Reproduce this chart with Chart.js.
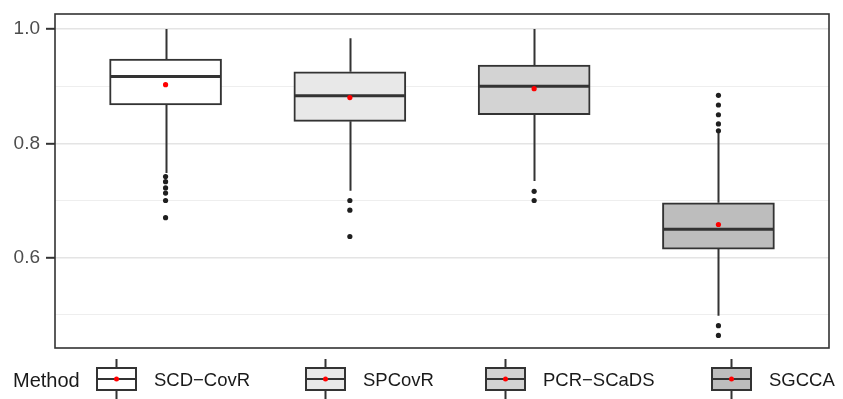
<!DOCTYPE html>
<html>
<head>
<meta charset="utf-8">
<script src="https://cdn.jsdelivr.net/npm/chart.js@4/dist/chart.umd.min.js"></script>
<style>
  body { margin: 0; background: #fff; }
</style>
</head>
<body>
<canvas id="chart" width="843" height="399"></canvas>
<script>
'use strict';

// box statistics per method
var methods = ['SCD\u2212CovR', 'SPCovR', 'PCR\u2212SCaDS', 'SGCCA'];
var q1 = [0.867, 0.8385, 0.850, 0.615];
var median = [0.917, 0.883, 0.900, 0.6495];
var q3 = [0.9475, 0.925, 0.937, 0.696];
var whiskerLow = [0.748, 0.717, 0.734, 0.4985];
var whiskerHigh = [1.0, 0.984, 1.0, 0.820];
var means = [0.9025, 0.880, 0.8955, 0.658];
var outliers = [
  [0.742, 0.733, 0.722, 0.713, 0.700, 0.670],
  [0.700, 0.683, 0.637],
  [0.716, 0.700],
  [0.884, 0.867, 0.850, 0.834, 0.822, 0.481, 0.464]
];
var yTicks = [0.5, 0.6, 0.7, 0.8, 0.9, 1.0];
var yLabelled = [0.6, 0.8, 1.0];

var fills = ['#ffffff', '#e8e8e8', '#d3d3d3', '#bdbdbd'];
var ink = '#333333';
var boxWidth = 112;
var font = '"Liberation Sans", Arial, sans-serif';

var ctx = document.getElementById('chart').getContext('2d');

var boxData = [];
var meanData = [];
var outlierData = [];
for (var i = 0; i < methods.length; i++) {
  boxData.push({ x: i + 1, y: [q1[i], q3[i]] });
  meanData.push({ x: i + 1, y: means[i] });
  for (var j = 0; j < outliers[i].length; j++) {
    outlierData.push({ x: i + 1, y: outliers[i][j] });
  }
}

function isLabelled(v) {
  for (var k = 0; k < yLabelled.length; k++) {
    if (Math.abs(yLabelled[k] - v) < 1e-9) return true;
  }
  return false;
}

var boxPlugin = {
  id: 'boxParts',
  beforeDatasetDraw: function (chart, args) {
    if (args.meta.type !== 'bar') return;
    var c = chart.ctx, xs = chart.scales.x, ys = chart.scales.y;
    c.save();
    c.strokeStyle = ink;
    c.lineWidth = 2;
    c.beginPath();
    for (var i = 0; i < methods.length; i++) {
      var x = Math.round(xs.getPixelForValue(i + 1)) + 0.5;
      c.moveTo(x, ys.getPixelForValue(whiskerHigh[i]));
      c.lineTo(x, ys.getPixelForValue(q3[i]));
      c.moveTo(x, ys.getPixelForValue(q1[i]));
      c.lineTo(x, ys.getPixelForValue(whiskerLow[i]));
    }
    c.stroke();
    c.restore();
  },
  afterDatasetDraw: function (chart, args) {
    if (args.meta.type !== 'bar') return;
    var c = chart.ctx, xs = chart.scales.x, ys = chart.scales.y;
    c.save();
    c.strokeStyle = ink;
    c.lineWidth = 3;
    c.beginPath();
    for (var i = 0; i < methods.length; i++) {
      var x = xs.getPixelForValue(i + 1);
      var y = ys.getPixelForValue(median[i]);
      c.moveTo(x - boxWidth / 2 + 1, y);
      c.lineTo(x + boxWidth / 2 - 1, y);
    }
    c.stroke();
    c.restore();
  },
  afterDraw: function (chart) {
    var c = chart.ctx, a = chart.chartArea;
    c.save();
    // panel border
    c.strokeStyle = ink;
    c.lineWidth = 1.6;
    c.strokeRect(a.left, a.top, a.right - a.left, a.bottom - a.top);

    // legend
    var cy = 381;
    c.fillStyle = '#1a1a1a';
    c.textBaseline = 'middle';
    c.textAlign = 'left';
    c.font = '20px ' + font;
    c.fillText('Method', 13, cy);

    var keyLeft = [97, 306, 486, 712];
    var kw = 39, top = 368, bot = 390;
    c.font = '18.5px ' + font;
    for (var i = 0; i < methods.length; i++) {
      var x0 = keyLeft[i], xm = x0 + kw / 2;
      c.strokeStyle = ink;
      c.lineWidth = 2;
      c.beginPath();
      c.moveTo(xm, 359); c.lineTo(xm, top);
      c.moveTo(xm, bot); c.lineTo(xm, 399);
      c.stroke();
      c.fillStyle = fills[i];
      c.fillRect(x0, top, kw, bot - top);
      c.strokeRect(x0, top, kw, bot - top);
      c.beginPath();
      c.moveTo(x0, (top + bot) / 2); c.lineTo(x0 + kw, (top + bot) / 2);
      c.stroke();
      c.fillStyle = '#ff0000';
      c.beginPath();
      c.arc(xm, (top + bot) / 2, 2.5, 0, Math.PI * 2);
      c.fill();
      c.fillStyle = '#1a1a1a';
      c.fillText(methods[i], x0 + 57, cy);
    }
    c.restore();
  }
};

var chart = new Chart(ctx, {
  type: 'bar',
  data: {
    datasets: [
      {
        type: 'scatter',
        label: 'mean',
        data: meanData,
        order: 0,
        pointRadius: 2.6,
        pointBackgroundColor: '#ff0000',
        pointBorderWidth: 0
      },
      {
        type: 'scatter',
        label: 'outliers',
        data: outlierData,
        order: 1,
        pointRadius: 2.6,
        pointBackgroundColor: '#1f1f1f',
        pointBorderWidth: 0
      },
      {
        type: 'bar',
        label: 'box',
        data: boxData,
        order: 2,
        backgroundColor: fills,
        borderColor: ink,
        borderWidth: 2,
        borderSkipped: false,
        barThickness: boxWidth
      }
    ]
  },
  options: {
    responsive: false,
    animation: false,
    layout: { autoPadding: false, padding: { top: 14, right: 14, bottom: 51, left: 0 } },
    plugins: {
      legend: { display: false },
      tooltip: { enabled: false }
    },
    scales: {
      x: {
        type: 'linear',
        display: false,
        offset: false,
        min: 0.4,
        max: 4.6
      },
      y: {
        min: 0.442,
        max: 1.0262,
        afterBuildTicks: function (scale) {
          scale.ticks = yTicks.map(function (v) { return { value: v }; });
        },
        afterFit: function (scale) {
          scale.width = 55;
          scale.paddingTop = 0;
          scale.paddingBottom = 0;
        },
        border: { display: false },
        grid: {
          color: function (c) { return isLabelled(c.tick.value) ? '#e4e4e4' : '#eeeeee'; },
          lineWidth: function (c) { return isLabelled(c.tick.value) ? 1.6 : 1; },
          tickColor: function (c) { return isLabelled(c.tick.value) ? ink : 'rgba(0,0,0,0)'; },
          tickWidth: 2,
          tickLength: 9
        },
        ticks: {
          padding: 6,
          color: '#4d4d4d',
          font: { family: font, size: 19 },
          callback: function (v) { return isLabelled(v) ? v.toFixed(1) : ''; }
        }
      }
    }
  },
  plugins: [boxPlugin]
});
</script>
</body>
</html>
